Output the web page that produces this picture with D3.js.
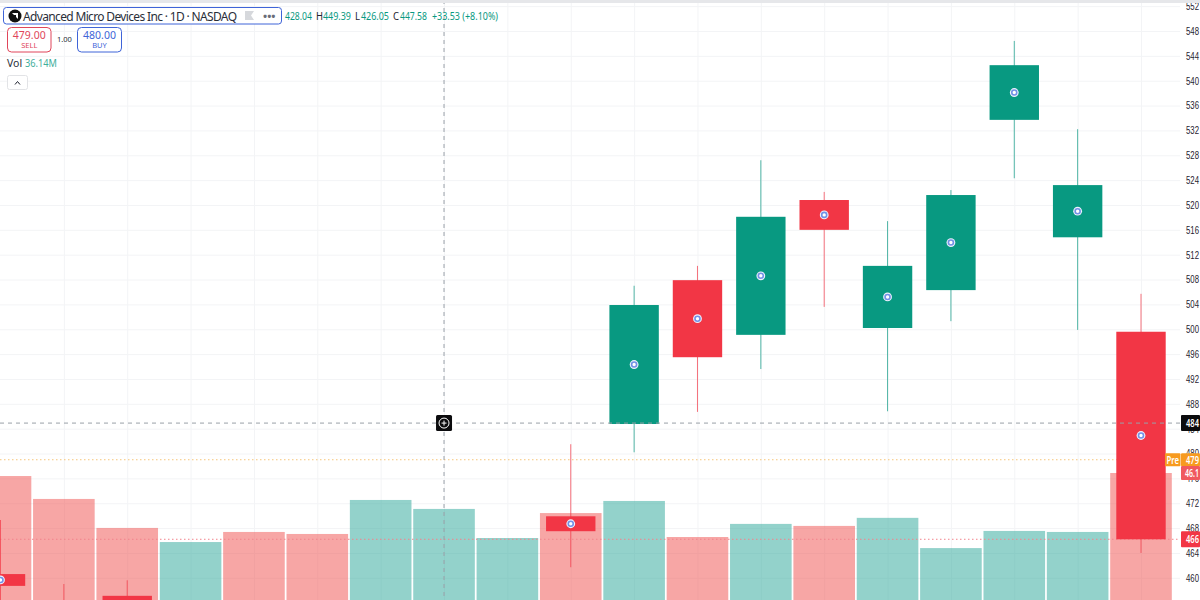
<!DOCTYPE html>
<html lang="en">
<head>
<meta charset="UTF-8">
<title>AMD 1D</title>
<script src="https://d3js.org/d3.v7.min.js"></script>
<style>
  html, body { margin: 0; padding: 0; background: #fff; overflow: hidden; }
  svg { display: block; font-family: "Noto Sans", "Open Sans", sans-serif; }
  .tick text { font-size: 10.5px; fill: #1f2330; }
</style>
</head>
<body>
<div id="chart"></div>
<script>
  // volume bars, slot 0 is the bar cut by the left edge
  const volumes = [49.2, 40.1, 28.6, 23.0, 27.0, 26.2, 39.7, 36.14, 24.6, 34.5, 39.3, 25.0, 30.2, 29.4, 32.6, 20.6, 27.4, 27.0, 50.4];
  const volumeUp = [0, 0, 0, 1, 0, 0, 1, 1, 1, 0, 1, 0, 1, 0, 1, 1, 1, 1, 0];

  // candles, most of the early ones sit under the visible range
  const candleSlots = [0, 1, 2, 7, 9, 10, 11, 12, 13, 14, 15, 16, 17, 18];
  const opens  = [460.6, 455.0, 457.1, 428.04, 469.9, 484.75, 507.9, 499.1, 520.8, 500.2, 506.3, 533.7, 514.8, 499.6];
  const highs  = [469.3, 459.0, 459.6, 449.39, 481.5, 507.0, 510.2, 527.2, 522.1, 517.4, 522.4, 546.4, 532.2, 505.7];
  const lows   = [455.0, 448.0, 449.0, 426.05, 461.7, 480.2, 486.7, 493.6, 503.6, 486.8, 501.3, 524.3, 499.9, 464.0];
  const closes = [458.7, 452.0, 452.0, 447.58, 467.5, 503.9, 495.5, 518.1, 516.0, 510.2, 521.6, 542.5, 523.2, 466.2];

  const priceTicks = [460, 464, 468, 472, 476, 480, 484, 488, 492, 496, 500, 504, 508, 512, 516, 520, 524, 528, 532, 536, 540, 544, 548, 552];
  const crossPrice = 484.9;
  const prePrice = 479;
  const lastPrice = 466.2;

  const width = 1200, height = 600, paneRight = 1180;
  const red = "#f23645", teal = "#089981";

  const svg = d3.select("#chart").append("svg").attr("width", width).attr("height", height);

  const x = d3.scaleLinear().domain([0, 18]).range([0.5, 1141]);
  const y = d3.scaleLinear().domain([460, 548]).range([577.8, 31]);
  const vol = d3.scaleLinear().domain([0, 50.4]).range([600, 473]);

  // grid
  const gridX = svg.append("g").attr("transform", `translate(0,${height})`)
    .call(d3.axisBottom(x).tickValues(d3.range(1, 19)).tickSize(-height).tickFormat(""));
  gridX.select(".domain").remove();
  gridX.selectAll("line").attr("stroke", "#f3f4f6");

  const gridY = svg.append("g")
    .call(d3.axisLeft(y).tickValues(priceTicks).tickSize(-paneRight).tickFormat(""));
  gridY.select(".domain").remove();
  gridY.selectAll("line").attr("stroke", "#f3f4f6");

  // volume
  svg.append("g").selectAll("rect")
    .data(volumes)
    .join("rect")
    .attr("x", (d, i) => x(i) - 30.8)
    .attr("y", d => vol(d))
    .attr("width", 61.6)
    .attr("height", d => vol(0) - vol(d))
    .attr("fill", (d, i) => volumeUp[i] ? "#27a597" : "#ef4d4b")
    .attr("fill-opacity", 0.5);

  // price lines, the candles cover these two
  function hLine(price, color, dash) {
    svg.append("line").attr("x1", 0).attr("x2", paneRight)
      .attr("y1", y(price)).attr("y2", y(price))
      .attr("stroke", color).attr("stroke-dasharray", dash);
  }
  hLine(prePrice, "#f6c67a", "1.5 2.5");
  hLine(lastPrice, "#f2838c", "1.5 2.5");

  // candles
  const candles = candleSlots.map((slot, i) => ({
    slot, open: opens[i], high: highs[i], low: lows[i], close: closes[i]
  }));
  const candleColor = d => d.close >= d.open ? teal : red;

  const candle = svg.append("g").selectAll("g").data(candles).join("g");
  candle.append("line")
    .attr("x1", d => x(d.slot)).attr("x2", d => x(d.slot))
    .attr("y1", d => y(d.high)).attr("y2", d => y(d.low))
    .attr("stroke", candleColor).attr("stroke-opacity", 0.7);
  candle.append("rect")
    .attr("x", d => x(d.slot) - 24.7)
    .attr("y", d => y(Math.max(d.open, d.close)))
    .attr("width", 49.4)
    .attr("height", d => Math.abs(y(d.open) - y(d.close)))
    .attr("fill", candleColor);
  // marker dot in the middle of each body
  candle.append("circle")
    .attr("cx", d => x(d.slot)).attr("cy", d => y((d.open + d.close) / 2))
    .attr("r", 4.4).attr("fill", "#eef2fd");
  candle.append("circle")
    .attr("cx", d => x(d.slot)).attr("cy", d => y((d.open + d.close) / 2))
    .attr("r", 2.5).attr("fill", "#fff").attr("stroke", "#7391e6").attr("stroke-width", 1.6);

  // crosshair
  hLine(crossPrice, "#9aa0a8", "4 4");
  svg.append("line").attr("x1", x(7)).attr("x2", x(7)).attr("y1", 0).attr("y2", height)
    .attr("stroke", "#9aa0a8").attr("stroke-dasharray", "4 4");

  const plus = svg.append("g").attr("transform", `translate(${x(7)},${y(crossPrice)})`);
  plus.append("rect").attr("x", -8).attr("y", -8).attr("width", 16).attr("height", 16).attr("rx", 1.5).attr("fill", "#0b0b0d");
  plus.append("circle").attr("r", 5).attr("fill", "none").attr("stroke", "#fff");
  plus.append("path").attr("d", "M-2.5,0H2.5M0,-2.5V2.5").attr("stroke", "#fff");

  // price axis, the labels are narrow and run up to the window edge
  const axis = svg.append("g").attr("transform", "translate(1180,0)")
    .call(d3.axisRight(y).tickValues(priceTicks).tickSize(0).tickPadding(6).tickFormat(d3.format("d")));
  axis.select(".domain").remove();
  axis.selectAll("text").attr("textLength", 13).attr("lengthAdjust", "spacingAndGlyphs");

  // axis tags
  function tag(xPos, yMid, w, h, fill, text, textX, textW) {
    svg.append("rect").attr("x", xPos).attr("y", yMid - h / 2).attr("width", w).attr("height", h).attr("rx", 1).attr("fill", fill);
    svg.append("text").attr("x", textX).attr("y", yMid + 3.8).attr("font-size", 10.5).attr("font-weight", 600)
      .attr("fill", "#fff").attr("textLength", textW).attr("lengthAdjust", "spacingAndGlyphs").text(text);
  }
  tag(1181, y(crossPrice), 19, 16, "#0b0b0d", "484", 1186, 13);
  tag(1165, y(prePrice), 15.5, 13, "#f79a1f", "Pre", 1166.5, 12.5);
  tag(1181, y(prePrice), 19, 13, "#f79a1f", "479", 1186, 13);
  tag(1181, 473, 19, 14, "#f0595f", "46.1", 1185, 14);
  tag(1181, y(lastPrice), 19, 16, red, "466", 1186, 13);

  // top stripe
  svg.append("rect").attr("width", width).attr("height", 3).attr("fill", "#e6e7ea");

  // header values
  const headItems = [
    [285, "428.04", teal, 27], [316, "H", "#1f2330", 7], [323, "449.39", teal, 28],
    [355, "L", "#1f2330", 5], [361, "426.05", teal, 28], [393, "C", "#1f2330", 6],
    [400, "447.58", teal, 27], [432, "+33.53 (+8.10%)", teal, 66]
  ];
  const head = svg.append("g").attr("font-size", 10.5);
  headItems.forEach(d => head.append("text").attr("x", d[0]).attr("y", 20).attr("fill", d[2])
    .attr("textLength", d[3]).attr("lengthAdjust", "spacingAndGlyphs").text(d[1]));

  // symbol box
  svg.append("rect").attr("x", 3.5).attr("y", 7.5).attr("width", 278).attr("height", 16.5).attr("rx", 3)
    .attr("fill", "#fff").attr("stroke", "#3f64d8");
  svg.append("circle").attr("cx", 15).attr("cy", 16).attr("r", 6.5).attr("fill", "#111");
  svg.append("path").attr("d", "M12,13H18V19L16,17V15H14Z").attr("fill", "#fff");
  svg.append("text").attr("x", 23).attr("y", 20.5).attr("font-size", 12).attr("fill", "#2a2e39")
    .attr("textLength", 214).text("Advanced Micro Devices Inc · 1D · NASDAQ");
  svg.append("path").attr("d", "M245,11H254L251,15.5L254,20H245Z").attr("fill", "#d6d8dc");
  svg.append("text").attr("x", 263).attr("y", 20).attr("font-size", 11).attr("font-weight", 700).attr("fill", "#6a6d78").text("•••");

  // sell / buy
  function tradeBox(xPos, w, color, price, label) {
    svg.append("rect").attr("x", xPos).attr("y", 27.5).attr("width", w).attr("height", 24.5).attr("rx", 4)
      .attr("fill", "#fff").attr("stroke", color);
    svg.append("text").attr("x", xPos + w / 2).attr("y", 39).attr("text-anchor", "middle").attr("font-size", 10.5).attr("fill", color).text(price);
    svg.append("text").attr("x", xPos + w / 2).attr("y", 48).attr("text-anchor", "middle").attr("font-size", 7.5).attr("fill", color).text(label);
  }
  tradeBox(7.5, 43.5, "#e0455a", "479.00", "SELL");
  tradeBox(77.5, 44, "#3f64d8", "480.00", "BUY");
  svg.append("text").attr("x", 57).attr("y", 42).attr("font-size", 7.5).attr("fill", "#2a2e39").text("1.00");

  svg.append("text").attr("x", 7).attr("y", 67).attr("font-size", 10.5).attr("fill", "#2a2e39").text("Vol");
  svg.append("text").attr("x", 25).attr("y", 67).attr("font-size", 10.5).attr("fill", "#3fae9c")
    .attr("textLength", 32).attr("lengthAdjust", "spacingAndGlyphs").text("36.14M");

  // collapse button
  svg.append("rect").attr("x", 7.5).attr("y", 75.5).attr("width", 20).attr("height", 14).attr("rx", 2)
    .attr("fill", "#fff").attr("stroke", "#e2e3e6");
  svg.append("path").attr("d", "M15,84.5L17.5,81.5L20,84.5").attr("fill", "none").attr("stroke", "#1f2330");
</script>
</body>
</html>
